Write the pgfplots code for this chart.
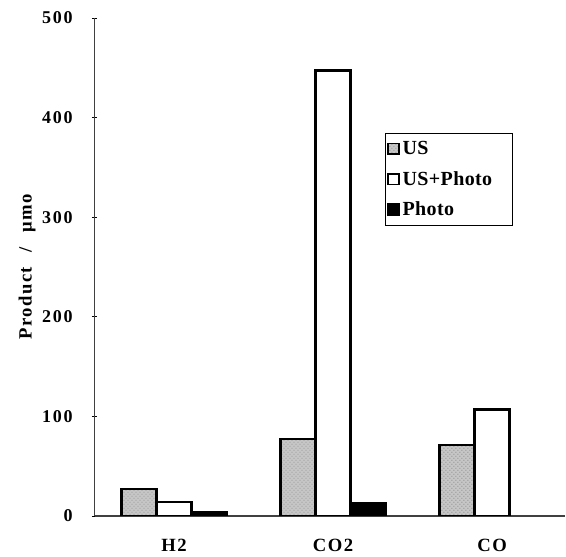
\documentclass[border=0pt]{standalone}
\usepackage{fontspec}
\setmainfont{Liberation Serif}
\usepackage{pgfplots}
\pgfplotsset{compat=1.18}
\usetikzlibrary{patterns}
\begin{document}
\begin{tikzpicture}
\begin{axis}[
    scale only axis,
    width=353pt, height=373.5pt,
    ybar=0pt, bar width=26.25pt,
    xmin=-0.5, xmax=2.46,
    ymin=0, ymax=500,
    ytick={0,100,200,300,400,500},
    xtick={0,1,2},
    xticklabels={H2,CO2,CO},
    xtick style={draw=none},
    extra x ticks={0.5,1.5},
    extra x tick labels={},
    extra x tick style={major tick length=4pt, tick style={draw=black, thin}},
    ytick style={black, thin},
    major tick length=4pt,
    tick align=inside,
    axis x line=bottom, axis y line=left,
    axis line style={-, line width=1.2pt, black!75},
    /pgf/number format/assume math mode=true,
    yticklabel style={font=\bfseries\fontsize{13.5}{15}\selectfont\addfontfeature{LetterSpace=10}, xshift=-11pt},
    xticklabel style={font=\bfseries\fontsize{14}{16}\selectfont\addfontfeature{LetterSpace=8}, yshift=-12pt},
    ylabel={Product\hspace{11pt}/\hspace{11pt}μmo},
    ylabel style={font=\bfseries\fontsize{14}{16}\selectfont\addfontfeature{LetterSpace=8}, yshift=-2pt},
    legend style={at={(0.616,0.769)}, anchor=north west, draw=black, thin,
        font=\bfseries\fontsize{15}{16}\selectfont\addfontfeature{LetterSpace=2},
        row sep=7pt, inner xsep=2pt, inner ysep=4pt,
        text width=78pt,
        legend cell align=left},
    legend image code/.code={\draw[#1, line width=1.3pt] (0pt,-4pt) rectangle (8pt,4pt);},
    every axis plot/.append style={draw=black, line width=1.9pt},
]
\addplot[fill=gray!45, postaction={pattern=crosshatch dots, pattern color=gray!75}]
    coordinates {(0,27) (1,77) (2,71)};
\addplot[fill=white]
    coordinates {(0,14) (1,447) (2,107)};
\addplot[fill=black]
    coordinates {(0,4) (1,13)};
\legend{US, US+Photo, Photo}
\end{axis}
\path ([xshift=-71pt,yshift=-28pt]current axis.south west) rectangle ([yshift=13.5pt]current axis.north east);
\end{tikzpicture}
\end{document}
